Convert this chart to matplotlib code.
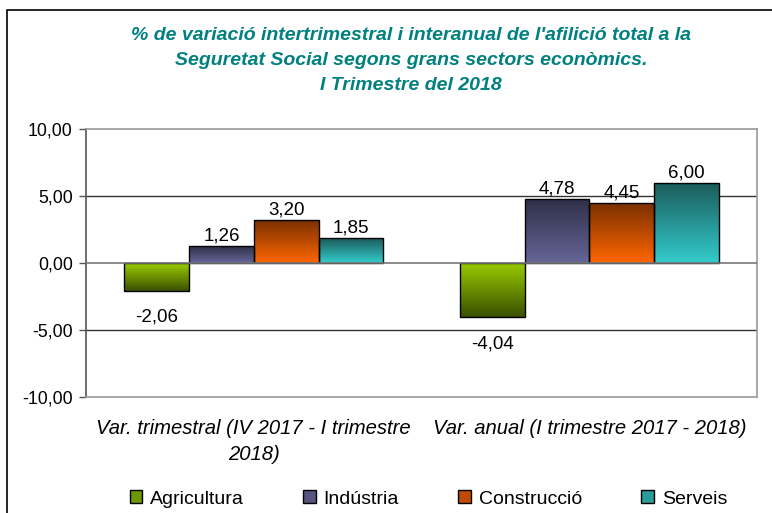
import numpy as np
import matplotlib
matplotlib.use("Agg")
import matplotlib.pyplot as plt
from matplotlib.colors import LinearSegmentedColormap
from matplotlib.patches import Rectangle, Patch
from matplotlib.ticker import FuncFormatter

plt.rcParams['font.family'] = ['Liberation Sans', 'DejaVu Sans']

# dades
categories = ["Var. trimestral (IV 2017 - I trimestre\n2018)",
              "Var. anual (I trimestre 2017 - 2018)"]
sectors = ["Agricultura", "Indústria", "Construcció", "Serveis"]
agricultura = [-2.06, -4.04]
industria = [1.26, 4.78]
construccio = [3.20, 4.45]
serveis = [1.85, 6.00]
valors = [agricultura, industria, construccio, serveis]

# colors del degradat (dalt, baix)
colors_grad = [("#9ACD00", "#3A5000"),
               ("#2E2E48", "#666699"),
               ("#7A3000", "#FF6600"),
               ("#1C5A5A", "#33CCCC")]
colors_legend = ["#6E9600", "#555580", "#C04A00", "#2A9C9C"]

titol = ("% de variació intertrimestral i interanual de l'afilició total a la\n"
         "Seguretat Social segons grans sectors econòmics.\n"
         "I Trimestre del 2018")

fig = plt.figure(figsize=(7.72, 5.13), dpi=100)
ax = fig.add_axes([0.1114, 0.2261, 0.8692, 0.5224])

# marc exterior
fig.patches.append(Rectangle((7 / 772, -0.1), 1.2, 1 - 10 / 513 + 0.1,
                             transform=fig.transFigure, fill=False,
                             edgecolor='black', linewidth=1.2))

x = np.arange(len(categories))
amplada = 0.193
grad = np.linspace(0, 1, 256).reshape(-1, 1)

for i, (serie, nom) in enumerate(zip(valors, sectors)):
    offset = (i - 1.5) * amplada
    bars = ax.bar(x + offset, serie, amplada, color='none', edgecolor='black',
                  linewidth=1.0, zorder=3)
    cmap = LinearSegmentedColormap.from_list(nom, [colors_grad[i][0], colors_grad[i][1]])
    for rect, v in zip(bars, serie):
        x0 = rect.get_x()
        x1 = x0 + rect.get_width()
        y0, y1 = sorted([0, v])
        im = ax.imshow(grad, extent=[x0, x1, y0, y1], origin='upper',
                       aspect='auto', cmap=cmap, zorder=2)
        im.set_clip_path(rect)
        etiqueta = f"{v:.2f}".replace('.', ',')
        if v >= 0:
            ax.annotate(etiqueta, (rect.get_x() + amplada / 2, v),
                        xytext=(0, 1), textcoords='offset points',
                        ha='center', va='bottom', fontsize=13.5)
        else:
            ax.annotate(etiqueta, (rect.get_x() + amplada / 2, v),
                        xytext=(0, -13), textcoords='offset points',
                        ha='center', va='top', fontsize=13.5)

ax.set_xlim(-0.5, 1.5)
ax.set_ylim(-10, 10)
ax.set_yticks([-10, -5, 0, 5, 10])
ax.yaxis.set_major_formatter(FuncFormatter(lambda v, p: f"{v:.2f}".replace('.', ',')))
ax.tick_params(axis='y', labelsize=12.8, length=5, width=1, color='#555555', pad=4.5)
ax.set_xticks(x)
ax.set_xticklabels(categories, fontsize=14.6, style='italic')
for lab in ax.get_xticklabels():
    lab.set_linespacing(1.45)
ax.tick_params(axis='x', length=0, pad=16)

for yv in [-5, 5]:
    ax.axhline(yv, color='#333333', linewidth=1.0, zorder=1)
ax.axhline(0, color='#777777', linewidth=1.2, zorder=4)

for s in ax.spines.values():
    s.set_color('#999999')
    s.set_linewidth(1.2)
ax.spines['left'].set_color('#555555')

fig.text(0.532, 0.948, titol, ha='center', va='top', fontsize=14,
         fontweight='bold', style='italic', color='#008080', linespacing=1.62)

handles = [Patch(facecolor=c, edgecolor='black', linewidth=1.0) for c in colors_legend]
fig.legend(handles, sectors, loc='center', bbox_to_anchor=(0.555, 0.027), ncol=4,
           frameon=False, fontsize=14, handlelength=0.65, handleheight=0.65,
           handletextpad=0.4, columnspacing=3.05)

fig.savefig("out.png", dpi=100)
